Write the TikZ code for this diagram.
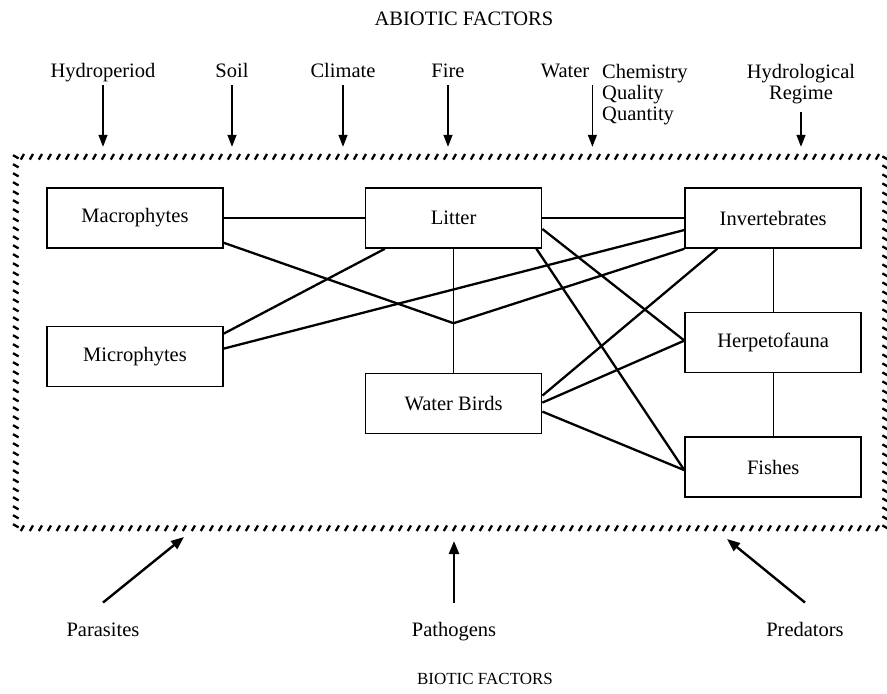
\documentclass[tikz,border=0pt]{standalone}
\usepackage{fontspec}
\setmainfont{Liberation Serif}
\usetikzlibrary{positioning, arrows.meta, calc, decorations.markings}

\begin{document}
\begin{tikzpicture}[
    x=1pt, y=-1pt,
    node distance=63pt and 141pt,
    box/.style={rectangle, draw, line width=1.6pt, minimum width=176pt, minimum height=60pt, font=\fontsize{20.5}{22}\selectfont},
    link/.style={line width=2.3pt},
    thinlink/.style={line width=1.3pt},
    lbl/.style={font=\fontsize{20.5}{21}\selectfont, inner sep=3pt, text height=14pt, text depth=4.5pt},
    mlbl/.style={font=\fontsize{20.5}{21}\selectfont, inner sep=3pt},
    downarrow/.style={-{Triangle[length=12pt, width=9pt]}, line width=1.4pt, shorten >=10pt},
    uparrow/.style={-{Triangle[length=13pt, width=10pt]}, line width=2.4pt},
    % hatched border of the wetland
    hatch/.style={decorate, decoration={markings, mark=between positions 0 and 1 step 9pt with {\draw[line width=2.3pt] (-1.6pt,-2.8pt) -- (1.6pt,2.8pt);}}}
]
    \useasboundingbox (0,0) rectangle (887,694);

    % --- Abiotic factors on top ---
    \node[lbl] (abiotic) at (464,21) {ABIOTIC FACTORS};
    \node[lbl] (hydro) at (103,73) {Hydroperiod};
    \node[lbl] (soil) at (232,73) {Soil};
    \node[lbl] (climate) at (343,73) {Climate};
    \node[lbl] (fire) at (448,73) {Fire};
    \node[lbl] (water) at (565,73) {Water};
    \node[mlbl, align=left, anchor=north west] (chem) at (599,61) {Chemistry\\Quality\\Quantity};
    \node[mlbl, align=center, anchor=north] (hreg) at (801,61) {Hydrological\\Regime};

    % --- The wetland system ---
    \node[minimum width=869pt, minimum height=371pt] (zone) at (450.5,342.5) {};
    \draw[hatch] (zone.north west) rectangle (zone.south east);

    \node[box] (macro) at (135,218) {Macrophytes};
    \node[box, right=of macro] (litter) {Litter};
    \node[box, right=142pt of litter] (invert) {Invertebrates};
    \node[box, below=77pt of macro] (micro) {Microphytes};
    \node[box, below=124pt of litter] (birds) {Water Birds};
    \node[box, below=of invert] (herp) {Herpetofauna};
    \node[box, below=of herp] (fish) {Fishes};

    \coordinate (jn) at ($(litter.south)!0.6!(birds.north)$);

    % --- Links between the boxes ---
    \draw[link] (macro) -- (litter);
    \draw[link] (litter) -- (invert);
    \draw[link] ([yshift=6pt]macro.south east) -- (jn) -- (invert.south west);
    \draw[link] ([yshift=23pt]micro.east) -- ([xshift=20pt]litter.south west);
    \draw[link] ([yshift=8pt]micro.east) -- ([yshift=-12pt]invert.west);
    \draw[thinlink] (litter) -- (birds);
    \draw[link] ([yshift=-11pt]litter.east) -- ([yshift=2pt]herp.west);
    \draw[link] ([xshift=-6pt]litter.south east) -- ([yshift=-3pt]fish.west);
    \draw[link] ([yshift=8pt]birds.east) -- ([xshift=-56pt]invert.south);
    \draw[link] ([yshift=1pt]birds.east) -- ([yshift=2pt]herp.west);
    \draw[link] ([yshift=-8pt]birds.east) -- ([yshift=-3pt]fish.west);
    \draw[thinlink] (invert) -- (herp);
    \draw[thinlink] (herp) -- (fish);

    % --- Abiotic arrows ---
    \draw[downarrow] (hydro.south) -- (hydro.south |- zone.north);
    \draw[downarrow] (soil.south) -- (soil.south |- zone.north);
    \draw[downarrow] (climate.south) -- (climate.south |- zone.north);
    \draw[downarrow] (fire.south) -- (fire.south |- zone.north);
    \draw[downarrow] (water.south east) -- (water.south east |- zone.north);
    \draw[downarrow, shorten <=5pt] (hreg.south) -- (hreg.south |- zone.north);

    % --- Biotic factors below ---
    \node[lbl] (para) at (103,632) {Parasites};
    \node[lbl] (patho) at (454,632) {Pathogens};
    \node[lbl] (pred) at (805,632) {Predators};
    \node[lbl, font=\fontsize{17}{19}\selectfont] (biotic) at (485,680) {BIOTIC FACTORS};

    \coordinate (para_tip) at (184,537);
    \coordinate (patho_tip) at (454,541);
    \coordinate (pred_tip) at (727,539);

    \draw[uparrow] ([yshift=17pt]para.north) -- (para_tip);
    \draw[uparrow] ([yshift=17pt]patho.north) -- (patho_tip);
    \draw[uparrow] ([yshift=17pt]pred.north) -- (pred_tip);

\end{tikzpicture}
\end{document}
